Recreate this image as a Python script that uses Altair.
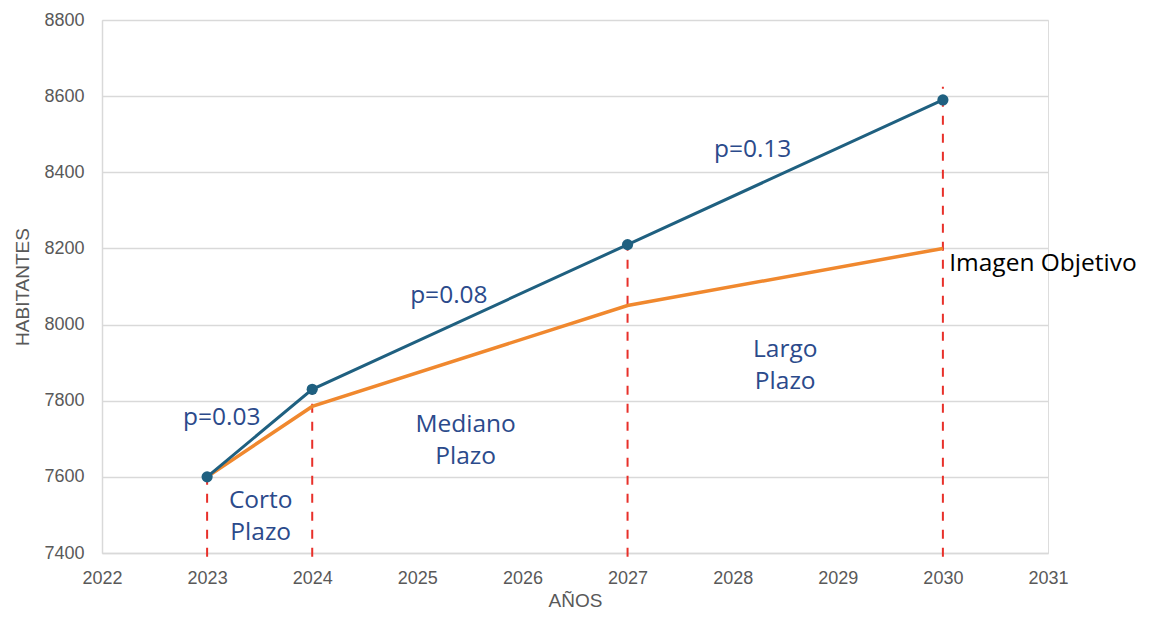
import altair as alt
import pandas as pd

years = [2023, 2024, 2027, 2030]
blue_vals = [7600, 7830, 8210, 8590]
orange_vals = [7600, 7785, 8050, 8200]
dash_top = [7600, 7830, 8210, 8625]
dash_bottom = 7390

ann_text = ["p=0.03", "p=0.08", "p=0.13"]
ann_x = [2023.14, 2025.30, 2028.19]
ann_y = [7755, 8075, 8458]

plazo_text = [["Corto", "Plazo"], ["Mediano", "Plazo"], ["Largo", "Plazo"]]
plazo_x = [2023.51, 2025.46, 2028.50]
plazo_y = [7536, 7736, 7933]

label_text = ["Imagen Objetivo"]
label_x = [2030.06]
label_y = [8160]

BLUE = "#1f6080"
ORANGE = "#f0882e"
RED = "#e8302a"
TXT = "#2b4a8b"
AX = "#595959"

df_b = pd.DataFrame({"year": years, "val": blue_vals})
df_o = pd.DataFrame({"year": years, "val": orange_vals})
df_d = pd.DataFrame({"year": years, "top": dash_top, "bot": [dash_bottom] * 4})
df_a = pd.DataFrame({"t": ann_text, "x": ann_x, "y": ann_y})
df_p = pd.DataFrame({"t": plazo_text, "x": plazo_x, "y": plazo_y})
df_l = pd.DataFrame({"t": label_text, "x": label_x, "y": label_y})

xs = alt.Scale(domain=[2022, 2031], nice=False)
ys = alt.Scale(domain=[7400, 8800], nice=False)

xax = alt.Axis(title="AÑOS", values=list(range(2022, 2032)), format="d",
               grid=False, ticks=False, domainColor="#d9d9d9", domainWidth=1.5,
               labelFont="Liberation Sans", labelFontSize=18, labelColor=AX,
               labelPadding=16, titleFont="Liberation Sans", titleFontSize=19,
               titleFontWeight="normal", titleColor=AX, titlePadding=4,
               labelFlush=False)
yax = alt.Axis(title="HABITANTES", values=list(range(7400, 8801, 200)), format="d",
               grid=True, gridColor="#d9d9d9", gridWidth=1.5, ticks=False,
               domainColor="#d9d9d9", domainWidth=1.5,
               labelFont="Liberation Sans", labelFontSize=18, labelColor=AX,
               labelPadding=18, titleFont="Liberation Sans", titleFontSize=19,
               titleFontWeight="normal", titleColor=AX, titlePadding=11)

grid_layer = alt.Chart(df_b).mark_line(opacity=0).encode(
    x=alt.X("year:Q", scale=xs, axis=xax), y=alt.Y("val:Q", scale=ys, axis=yax))

orange = alt.Chart(df_o).mark_line(color=ORANGE, strokeWidth=3.5).encode(
    x=alt.X("year:Q", scale=xs), y=alt.Y("val:Q", scale=ys))

blue = alt.Chart(df_b).mark_line(color=BLUE, strokeWidth=3, point=alt.OverlayMarkDef(
    color=BLUE, size=125, filled=True, opacity=1)).encode(
    x=alt.X("year:Q", scale=xs), y=alt.Y("val:Q", scale=ys))

dashes = alt.Chart(df_d).mark_rule(color=RED, strokeWidth=2, strokeDash=[9, 9], clip=False).encode(
    x=alt.X("year:Q", scale=xs), y=alt.Y("bot:Q", scale=ys), y2="top:Q")

ann = alt.Chart(df_a).mark_text(font="Open Sans", fontSize=24.5, color=TXT,
                                align="center", baseline="middle").encode(
    x=alt.X("x:Q", scale=xs), y=alt.Y("y:Q", scale=ys), text="t")

plazo = alt.Chart(df_p).mark_text(font="Open Sans", fontSize=24.5, color=TXT,
                                  align="center", baseline="middle", lineHeight=32).encode(
    x=alt.X("x:Q", scale=xs), y=alt.Y("y:Q", scale=ys), text="t")

lab = alt.Chart(df_l).mark_text(font="Open Sans", fontSize=24.5, color="#000000",
                                align="left", baseline="middle", clip=False).encode(
    x=alt.X("x:Q", scale=xs), y=alt.Y("y:Q", scale=ys), text="t")

chart = alt.layer(grid_layer, dashes, orange, blue, ann, plazo, lab).properties(
    width=946, height=533,
    autosize=alt.AutoSizeParams(type="none"),
    padding={"left": 94, "top": 12, "right": 92, "bottom": 60},
).configure_view(stroke=None).configure(background="white")

chart.save("out.html", embed_options={"renderer": "svg", "actions": False})
